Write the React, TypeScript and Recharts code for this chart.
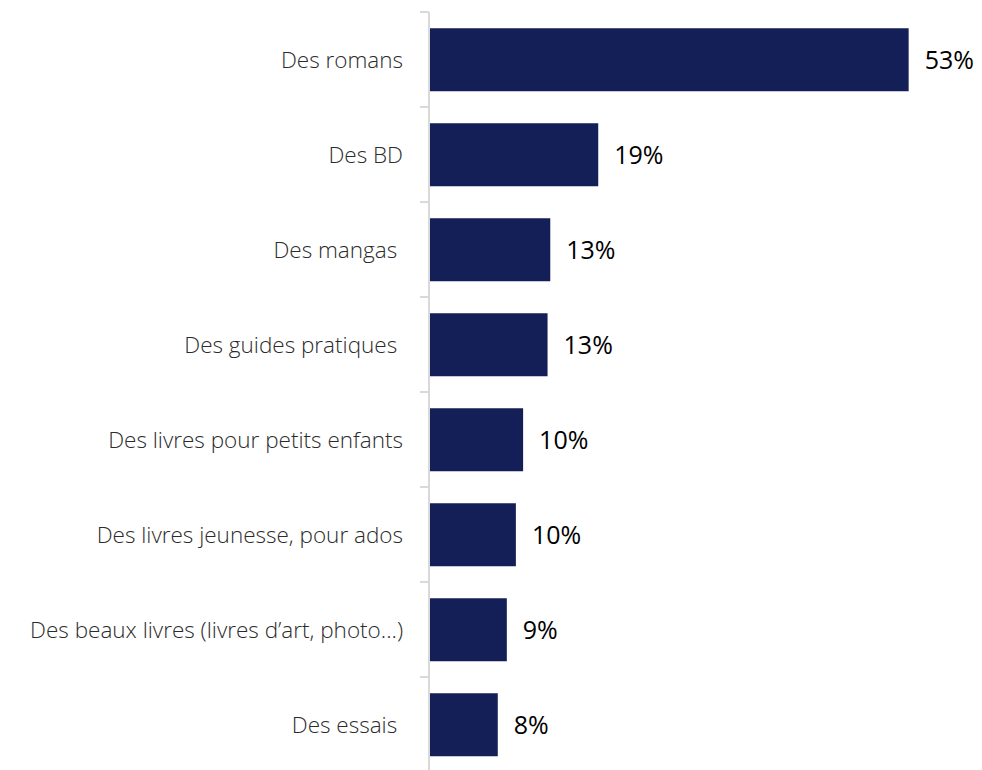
import { Bar, BarChart, LabelList, XAxis, YAxis } from "recharts";

const categories = [
  "Des romans",
  "Des BD",
  "Des mangas\u00a0",
  "Des guides pratiques\u00a0",
  "Des livres pour petits enfants",
  "Des livres jeunesse, pour ados",
  "Des beaux livres (livres d\u2019art, photo...)",
  "Des essais\u00a0",
];

const shares = [53, 18.7, 13.4, 13.1, 10.4, 9.6, 8.6, 7.6];

const data = categories.map((name, i) => ({ name, value: shares[i] }));

const CHART_W = 982;
const CHART_H = 785;
const MARGIN = { top: 12, right: 10, bottom: 13, left: 0 };
const AXIS_W = 429;
const STEP = (CHART_H - MARGIN.top - MARGIN.bottom) / categories.length;

const BAR_COLOR = "#131f56";
const AXIS_COLOR = "#d9d9d9";
const FONT = "'Open Sans', sans-serif";

function CategoryTick(props: any) {
  const { y, payload, index } = props;
  const last = index === categories.length - 1;
  return (
    <g>
      <line x1={AXIS_W - 9} x2={AXIS_W} y1={y - STEP / 2} y2={y - STEP / 2} stroke={AXIS_COLOR} strokeWidth={2} />
      {last && (
        <line x1={AXIS_W - 9} x2={AXIS_W} y1={y + STEP / 2} y2={y + STEP / 2} stroke={AXIS_COLOR} strokeWidth={2} />
      )}
      <text
        x={AXIS_W - 26}
        y={y}
        dy={8}
        textAnchor="end"
        fill="#2b2b2b"
        fontSize={22.5}
        fontWeight={300}
        fontFamily={FONT}
      >
        {payload.value}
      </text>
    </g>
  );
}

export default function App() {
  return (
    <div style={{ width: CHART_W, height: 770, overflow: "hidden" }}>
      <style>{"body{margin:0;overflow:hidden}"}</style>
      <BarChart
        width={CHART_W}
        height={CHART_H}
        data={data}
        layout="vertical"
        margin={MARGIN}
        barCategoryGap="17%"
      >
        <XAxis type="number" domain={[0, 60]} hide />
        <YAxis
          type="category"
          dataKey="name"
          width={AXIS_W}
          tickLine={false}
          axisLine={{ stroke: AXIS_COLOR, strokeWidth: 2 }}
          tick={<CategoryTick />}
          interval={0}
        />
        <Bar dataKey="value" fill={BAR_COLOR} isAnimationActive={false}>
          <LabelList
            dataKey="value"
            position="right"
            offset={16}
            formatter={(v: any) => `${Math.round(Number(v))}%`}
            style={{ fill: "#000", fontSize: 25, fontFamily: FONT, fontWeight: 400 }}
          />
        </Bar>
      </BarChart>
    </div>
  );
}
